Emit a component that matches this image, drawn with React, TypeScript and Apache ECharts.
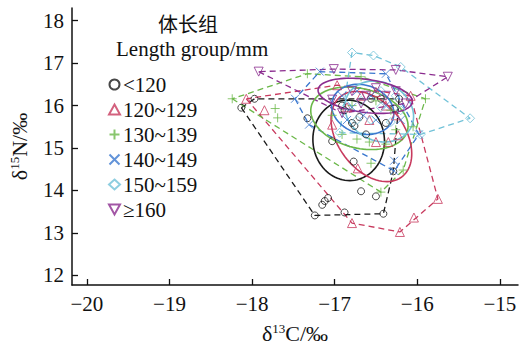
import React, { useEffect, useRef } from "react";
import * as echarts from "echarts";

const groupNames = ["<120", "120~129", "130~139", "140~149", "150~159", "≥160"];
const groupColors = ["#1a1a1a", "#c83a5e", "#6cb84a", "#3b78cf", "#72c2d8", "#8b2c8f"];
const xTicks = [-20, -19, -18, -17, -16, -15];
const yTicks = [12, 13, 14, 15, 16, 17, 18];

const pts120 = [
  [-18.13, 15.95], [-17.97, 16.16], [-16.22, 16.16], [-16.28, 15.93], [-16.29, 14.45],
  [-16.41, 13.45], [-16.88, 13.48], [-17.24, 13.41], [-17.15, 13.66], [-17.12, 13.75],
  [-17.08, 13.82], [-16.68, 13.98], [-16.5, 13.86], [-16.77, 14.68], [-17.03, 15.16],
  [-17.33, 15.7], [-16.91, 16.0], [-16.88, 15.89], [-16.7, 15.73], [-16.79, 15.59],
  [-16.76, 15.52], [-16.56, 16.16], [-16.44, 16.16], [-16.62, 15.32], [-16.38, 15.59],
];
const pts129 = [
  [-18.07, 16.16], [-16.97, 16.48], [-16.08, 16.23], [-15.75, 13.8], [-16.04, 13.36],
  [-16.21, 13.02], [-16.79, 13.23], [-17.85, 15.89], [-16.72, 14.52], [-16.5, 15.14],
  [-16.35, 15.14], [-16.23, 15.3], [-16.85, 15.96], [-16.68, 16.23], [-16.5, 16.32],
  [-16.38, 16.0], [-16.26, 15.77], [-17.03, 15.55], [-16.58, 15.66],
];
const pts139 = [
  [-18.24, 16.16], [-17.33, 16.75], [-16.68, 16.68], [-15.9, 16.16], [-16.05, 15.5],
  [-16.17, 14.48], [-16.44, 13.96], [-16.56, 14.64], [-17.72, 15.93], [-17.69, 15.71],
  [-16.91, 15.32], [-16.73, 15.21], [-16.58, 15.14], [-16.38, 15.09], [-16.26, 15.43],
  [-16.79, 16.0], [-16.5, 16.11], [-16.32, 15.89], [-17.03, 15.77],
];
const pts149 = [
  [-17.18, 16.8], [-17.48, 16.16], [-17.31, 15.55], [-16.28, 14.7], [-16.28, 14.46],
  [-15.98, 15.32], [-16.38, 16.75], [-16.91, 16.23], [-16.79, 15.96], [-16.65, 15.77],
  [-16.5, 15.66], [-16.85, 15.66], [-16.56, 16.23], [-16.38, 16.0], [-16.73, 16.34],
  [-16.2, 15.66],
];
const pts159 = [
  [-16.79, 17.25], [-16.53, 17.18], [-16.2, 16.91], [-15.36, 15.7], [-15.96, 15.32],
  [-16.94, 15.36], [-16.85, 16.0], [-16.68, 16.11], [-16.44, 15.96], [-16.32, 15.61],
  [-16.56, 15.66], [-16.2, 15.89], [-16.73, 15.66], [-16.44, 16.34], [-16.26, 16.23],
];
const pts160 = [
  [-17.92, 16.8], [-17.01, 16.86], [-16.26, 16.84], [-15.63, 16.68], [-16.14, 16.05],
  [-16.91, 15.82], [-17.03, 16.14], [-16.79, 16.34], [-16.62, 16.23], [-16.5, 16.41],
  [-16.38, 16.23], [-16.68, 16.05], [-16.26, 16.34],
];
const groupPoints = [pts120, pts129, pts139, pts149, pts159, pts160];

// standard ellipse: centre x, centre y, semi-major, semi-minor (in y-units), angle (deg, screen)
const ellipseCx = [-16.83, -16.555, -16.7, -16.66, -16.46, -16.63];
const ellipseCy = [15.18, 15.27, 15.7, 15.91, 15.86, 16.23];
const ellipseA = [0.95, 1.18, 1.14, 0.73, 0.82, 1.09];
const ellipseB = [0.82, 0.77, 0.7, 0.57, 0.68, 0.39];
const ellipseAngle = [95, -55, -15, -20, -30, -8];

const symbols = [
  "circle",
  "triangle",
  "path://M0,5L10,5M5,0L5,10",
  "path://M0,0L10,10M10,0L0,10",
  "diamond",
  "path://M0,0L10,0L5,9Z",
];
const symbolSizes = [7, 9, 9, 8, 9, 9];

const X_MIN = -20.18, X_MAX = -14.78, Y_MIN = 11.77, Y_MAX = 18.3;
const GRID = { left: 67, right: 8, top: 8, bottom: 53 };
const W = 526, H = 349;

function hull(points: number[][]) {
  const p = points.slice().sort((a, b) => a[0] - b[0] || a[1] - b[1]);
  const cross = (o: number[], a: number[], b: number[]) =>
    (a[0] - o[0]) * (b[1] - o[1]) - (a[1] - o[1]) * (b[0] - o[0]);
  const lower: number[][] = [];
  for (const q of p) {
    while (lower.length >= 2 && cross(lower[lower.length - 2], lower[lower.length - 1], q) <= 0) lower.pop();
    lower.push(q);
  }
  const upper: number[][] = [];
  for (let i = p.length - 1; i >= 0; i--) {
    const q = p[i];
    while (upper.length >= 2 && cross(upper[upper.length - 2], upper[upper.length - 1], q) <= 0) upper.pop();
    upper.push(q);
  }
  upper.pop();
  lower.pop();
  const h = lower.concat(upper);
  h.push(h[0]);
  return h;
}

function ellipse(i: number) {
  const pxX = (W - GRID.left - GRID.right) / (X_MAX - X_MIN);
  const pxY = (H - GRID.top - GRID.bottom) / (Y_MAX - Y_MIN);
  const k = pxX / pxY;
  const th = (ellipseAngle[i] * Math.PI) / 180;
  const out: number[][] = [];
  for (let d = 0; d <= 360; d += 4) {
    const t = (d * Math.PI) / 180;
    const u = ellipseA[i] * Math.cos(t);
    const v = ellipseB[i] * Math.sin(t);
    const X = u * Math.cos(th) - v * Math.sin(th);
    const Y = u * Math.sin(th) + v * Math.cos(th);
    out.push([ellipseCx[i] + X / k, ellipseCy[i] + Y]);
  }
  return out;
}

const SERIF = "'Liberation Serif', 'Times New Roman', serif";
const fmt = (v: number) => (v < 0 ? "\u2212" + Math.abs(v) : String(v));

export default function App() {
  const ref = useRef<HTMLDivElement>(null);
  useEffect(() => {
    if (!ref.current) return;
    const chart = echarts.init(ref.current, null, { renderer: "svg" });
    const series: any[] = [];
    groupNames.forEach((name, i) => {
      series.push({
        name: "hull" + i,
        type: "line",
        data: hull(groupPoints[i]),
        symbol: "none",
        lineStyle: { color: groupColors[i], width: 1.3, type: [6, 4] },
        z: 1,
        silent: true,
      });
    });
    groupNames.forEach((name, i) => {
      series.push({
        name: "ellipse" + i,
        type: "line",
        data: ellipse(i),
        symbol: "none",
        lineStyle: { color: groupColors[i], width: 1.6 },
        z: 2,
        silent: true,
      });
    });
    groupNames.forEach((name, i) => {
      series.push({
        name,
        type: "scatter",
        data: groupPoints[i],
        symbol: symbols[i],
        symbolSize: symbolSizes[i],
        itemStyle: { color: "rgba(255,255,255,0)", borderColor: groupColors[i], borderWidth: 1 },
        z: 3,
      });
    });
    const nameRich = {
      a: { fontFamily: SERIF, fontSize: 22, color: "#111" },
      s: { fontFamily: SERIF, fontSize: 13, color: "#111", verticalAlign: "top", padding: [0, 0, 9, 0] },
    };
    chart.setOption({
      animation: false,
      title: [
        { text: "体长组", left: 153, top: 8, textStyle: { fontFamily: "'Noto Sans CJK SC', sans-serif", fontSize: 20, fontWeight: "normal", color: "#111" } },
        { text: "Length group/mm", left: 111, top: 33, textStyle: { fontFamily: SERIF, fontSize: 21, fontWeight: "normal", color: "#111" } },
      ],
      legend: {
        data: groupNames,
        orient: "vertical",
        left: 103,
        top: 69,
        itemWidth: 11,
        itemHeight: 10,
        itemGap: 4,
        textStyle: { fontFamily: SERIF, fontSize: 21, color: "#111", lineHeight: 21, padding: [0, 0, 0, -2] },
      },
      grid: { ...GRID, containLabel: false },
      xAxis: {
        type: "value",
        min: X_MIN,
        max: X_MAX,
        name: "{a|δ}{s|13}{a|C/‰}",
        nameLocation: "middle",
        nameGap: 37,
        nameTextStyle: { rich: nameRich },
        axisLine: { lineStyle: { color: "#111", width: 1.5 } },
        axisTick: { inside: true, length: 6, customValues: xTicks, lineStyle: { color: "#111", width: 1.3 } },
        axisLabel: { customValues: xTicks, formatter: fmt, fontFamily: SERIF, fontSize: 21, color: "#111", margin: 8 },
        splitLine: { show: false },
      },
      yAxis: {
        type: "value",
        min: Y_MIN,
        max: Y_MAX,
        name: "{a|δ}{s|15}{a|N/‰}",
        nameLocation: "middle",
        nameRotate: 90,
        nameGap: 42,
        nameTextStyle: { rich: nameRich },
        axisLine: { lineStyle: { color: "#111", width: 1.5 } },
        axisTick: { inside: true, length: 6, customValues: yTicks, lineStyle: { color: "#111", width: 1.3 } },
        axisLabel: { customValues: yTicks, formatter: fmt, fontFamily: SERIF, fontSize: 21, color: "#111", margin: 8 },
        splitLine: { show: false },
      },
      series,
    });
    return () => chart.dispose();
  }, []);
  return <div ref={ref} style={{ width: W, height: H, position: "absolute", left: 0, top: 0 }} />;
}
